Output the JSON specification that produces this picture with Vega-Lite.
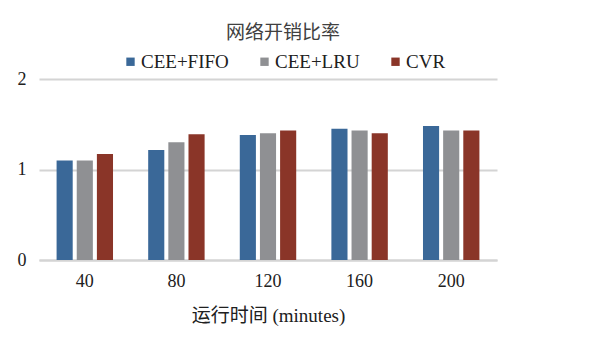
{
  "$schema": "https://vega.github.io/schema/vega-lite/v6.json",
  "width": 458,
  "height": 181,
  "autosize": {"type": "none"},
  "padding": {"left": 39, "top": 79, "right": 95, "bottom": 100},
  "background": "white",
  "title": {
    "text": "网络开销比率",
    "font": "Liberation Serif, Noto Sans CJK SC",
    "fontSize": 19,
    "fontWeight": "normal",
    "color": "#404040",
    "anchor": "middle",
    "dx": 15,
    "offset": 9
  },
  "data": {
    "values": [
      {"t": "40", "s": "CEE+FIFO", "v": 1.10},
      {"t": "40", "s": "CEE+LRU", "v": 1.10},
      {"t": "40", "s": "CVR", "v": 1.17},
      {"t": "80", "s": "CEE+FIFO", "v": 1.215},
      {"t": "80", "s": "CEE+LRU", "v": 1.30},
      {"t": "80", "s": "CVR", "v": 1.39},
      {"t": "120", "s": "CEE+FIFO", "v": 1.38},
      {"t": "120", "s": "CEE+LRU", "v": 1.40},
      {"t": "120", "s": "CVR", "v": 1.43},
      {"t": "160", "s": "CEE+FIFO", "v": 1.45},
      {"t": "160", "s": "CEE+LRU", "v": 1.43},
      {"t": "160", "s": "CVR", "v": 1.40},
      {"t": "200", "s": "CEE+FIFO", "v": 1.48},
      {"t": "200", "s": "CEE+LRU", "v": 1.43},
      {"t": "200", "s": "CVR", "v": 1.43}
    ]
  },
  "mark": {"type": "bar"},
  "encoding": {
    "x": {
      "field": "t",
      "type": "nominal",
      "sort": ["40", "80", "120", "160", "200"],
      "scale": {"paddingInner": 0.34, "paddingOuter": 0.17},
      "axis": {
        "title": "运行时间 (minutes)",
        "labelAngle": 0,
        "ticks": false,
        "domain": true,
        "domainColor": "#d4d4d4",
        "domainWidth": 2,
        "labelPadding": 12,
        "titlePadding": 16,
        "titleDx": -7,
        "titleFontSize": 19
      }
    },
    "xOffset": {
      "field": "s",
      "type": "nominal",
      "sort": ["CEE+FIFO", "CEE+LRU", "CVR"],
      "scale": {"paddingInner": 0.2, "paddingOuter": 0.1}
    },
    "y": {
      "field": "v",
      "type": "quantitative",
      "scale": {"domain": [0, 2]},
      "axis": {
        "title": null,
        "tickCount": 2,
        "format": ".0f",
        "labelOverlap": false,
        "labelFlush": false,
        "ticks": false,
        "domain": false,
        "labelPadding": 13,
        "gridColor": "#d4d4d4",
        "gridWidth": 2
      }
    },
    "color": {
      "field": "s",
      "type": "nominal",
      "sort": ["CEE+FIFO", "CEE+LRU", "CVR"],
      "scale": {
        "domain": ["CEE+FIFO", "CEE+LRU", "CVR"],
        "range": ["#3a6898", "#8f9093", "#8a3528"]
      },
      "legend": {
        "title": null,
        "orient": "none",
        "direction": "horizontal",
        "legendX": 82,
        "legendY": -27,
        "symbolType": "square",
        "symbolSize": 70,
        "symbolStrokeWidth": 0,
        "labelOffset": 1,
        "columnPadding": 26,
        "labelFontSize": 19,
        "labelFont": "Liberation Serif",
        "labelColor": "#202020"
      }
    }
  },
  "config": {
    "view": {"stroke": null},
    "legend": {"labelFont": "Liberation Serif", "labelFontSize": 19},
    "axis": {
      "labelFont": "Liberation Serif",
      "labelFontSize": 18,
      "labelColor": "#202020",
      "titleFont": "Liberation Serif, Noto Sans CJK SC",
      "titleFontSize": 18,
      "titleFontWeight": "normal",
      "titleColor": "#202020"
    }
  }
}
